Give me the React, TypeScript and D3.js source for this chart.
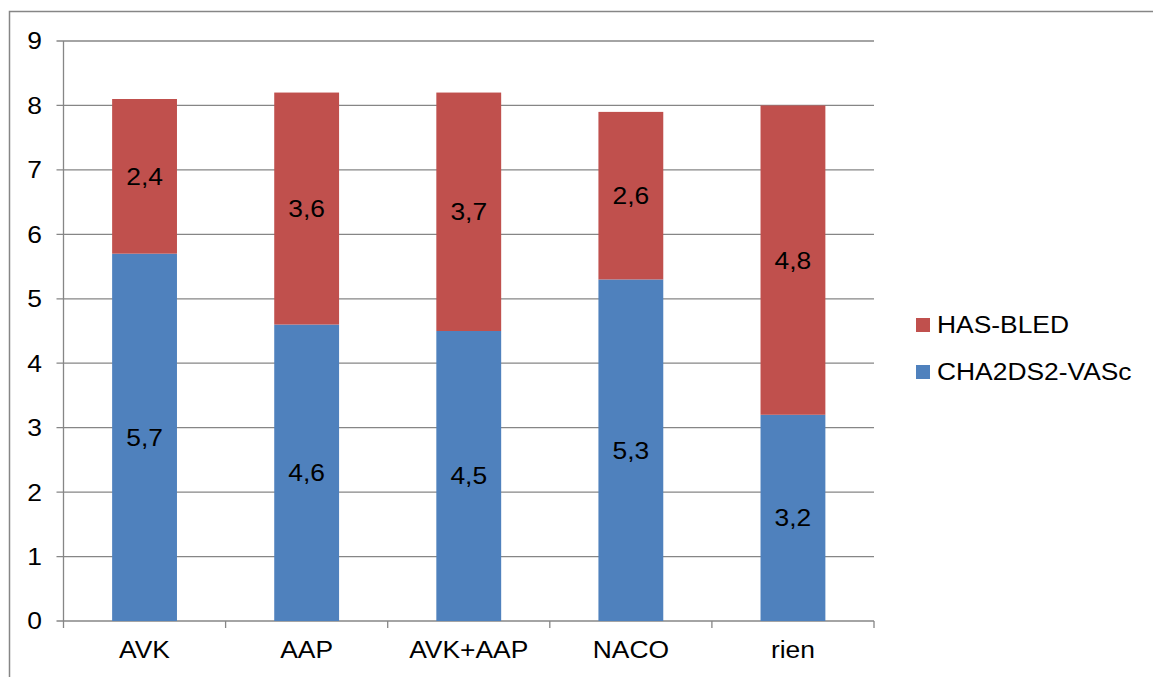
import React from "react";
import * as d3 from "d3";

const categories = ["AVK", "AAP", "AVK+AAP", "NACO", "rien"];
const chaValues = [5.7, 4.6, 4.5, 5.3, 3.2];
const hasValues = [2.4, 3.6, 3.7, 2.6, 4.8];
const seriesNames = ["CHA2DS2-VASc", "HAS-BLED"];
const seriesColors = ["#4F81BD", "#C0504D"];
const yTicks = [0, 1, 2, 3, 4, 5, 6, 7, 8, 9];

const W = 1153;
const H = 677;
const PLOT = { left: 63.5, right: 874, top: 41, bottom: 621 };
const FONT = "'Liberation Sans', Arial, sans-serif";
const GRID = "#868686";

// text in the original is a bit wider than it is tall
function Label({ x, y, anchor = "middle", dy = "0.35em", children }: any) {
  return (
    <text transform={`translate(${x},${y}) scale(1.1,1)`} dy={dy} textAnchor={anchor}
      fontSize={24} fill="#000">{children}</text>
  );
}

export default function App() {
  const x = d3.scaleBand<string>()
    .domain(categories)
    .range([PLOT.left, PLOT.right])
    .paddingInner(0.6)
    .paddingOuter(0.3);
  const y = d3.scaleLinear().domain([0, 9]).range([PLOT.bottom, PLOT.top]);

  const rows = categories.map((c, i) => ({ cat: c, cha: chaValues[i], has: hasValues[i] }));
  const stacked = d3.stack<any>().keys(["cha", "has"])(rows);
  const fmt = (v: number) => v.toFixed(1).replace(".", ",");
  const step = (PLOT.right - PLOT.left) / categories.length;

  return (
    <div style={{ position: "absolute", left: 0, top: 0 }}>
      <svg width={W} height={H} style={{ display: "block", fontFamily: FONT }}>
        <rect width={W} height={H} fill="#fff" />
        <rect x={9.5} y={11.5} width={W + 20} height={H + 20} fill="none" stroke={GRID} strokeWidth={1.5} />

        {yTicks.map(t => (
          <g key={t}>
            <line x1={PLOT.left - 7} x2={PLOT.right} y1={y(t)} y2={y(t)} stroke={GRID} strokeWidth={1.3} />
            <Label x={42} y={y(t)} anchor="end">{t}</Label>
          </g>
        ))}
        <line x1={PLOT.left} x2={PLOT.left} y1={PLOT.top} y2={PLOT.bottom} stroke={GRID} strokeWidth={1.3} />
        {d3.range(categories.length + 1).map(i => (
          <line key={i} x1={PLOT.left + i * step} x2={PLOT.left + i * step}
            y1={PLOT.bottom} y2={PLOT.bottom + 7} stroke={GRID} strokeWidth={1.3} />
        ))}

        {stacked.map((s, si) => (
          <g key={si}>
            {s.map((d, i) => (
              <g key={i}>
                <rect x={x(categories[i])} width={x.bandwidth()} y={y(d[1])} height={y(d[0]) - y(d[1])}
                  fill={seriesColors[si]} />
                <Label x={(x(categories[i]) as number) + x.bandwidth() / 2} y={y((d[0] + d[1]) / 2)}>
                  {fmt(d[1] - d[0])}
                </Label>
              </g>
            ))}
          </g>
        ))}

        {categories.map(c => (
          <Label key={c} x={(x(c) as number) + x.bandwidth() / 2} y={658} dy="0">{c}</Label>
        ))}

        {[1, 0].map((si, k) => (
          <g key={si} transform={`translate(916, ${325 + k * 47})`}>
            <rect x={0} y={-7} width={14} height={14} fill={seriesColors[si]} />
            <Label x={21} y={0} anchor="start">{seriesNames[si]}</Label>
          </g>
        ))}
      </svg>
    </div>
  );
}
